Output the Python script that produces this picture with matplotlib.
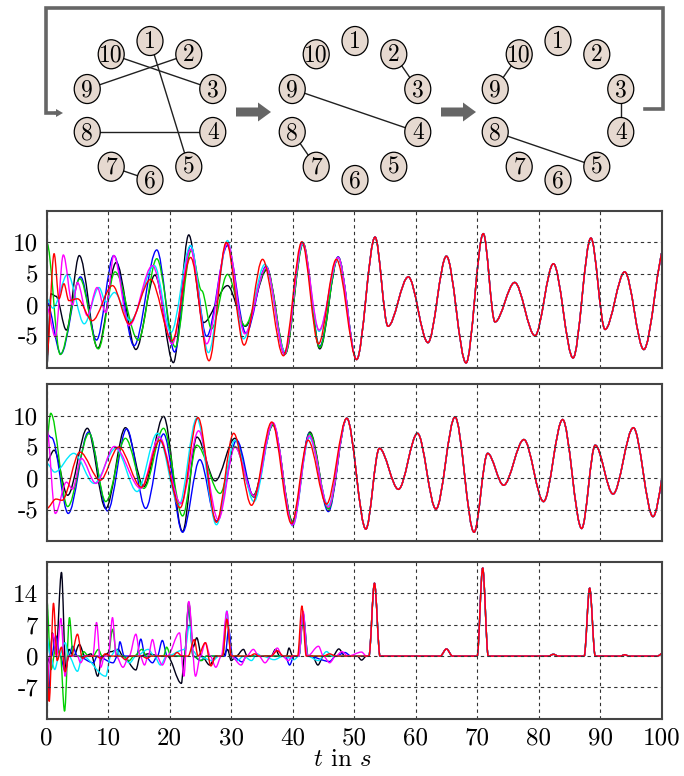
import matplotlib
matplotlib.use("Agg")
import matplotlib.pyplot as plt
from matplotlib.path import Path
from matplotlib.patches import PathPatch, Ellipse, FancyArrow
import numpy as np

plt.rcParams["font.family"] = "serif"
plt.rcParams["font.serif"] = ["cmr10"]
plt.rcParams["mathtext.fontset"] = "cm"
plt.rcParams["axes.unicode_minus"] = False

# ---- coupling graphs (edges between node numbers) ----
nodes = list(range(1, 11))
edges_a = [(10, 3), (9, 2), (1, 5), (8, 4), (7, 6)]
edges_b = [(2, 3), (9, 4), (8, 7)]
edges_c = [(10, 9), (3, 4), (8, 5)]

# ---- panel 1: extrema (t, value) ----
p1_black = [(0, -9.9), (0.7, 1.8), (1.5, 1.4), (3.2, -4.0), (5.3, 7.9), (8.3, -6.9), (11.3, 6.8),
            (14.5, -7.1), (17.6, 4.8), (20.6, -9.2), (23.1, 11.2), (25.5, -2.8), (29.4, 3.1),
            (32.3, -3.4), (35.8, 5.6), (38.8, -7.7), (41.7, 9.8), (44.4, -7.0), (47.4, 7.6)]
p1_blue = [(0, 0.5), (2.3, -7.8), (5.5, 4.5), (8.1, -5.6), (10.9, 7.9), (14.2, -6.5), (17.9, 8.8),
           (20.8, -7.5), (23.4, 9.5), (26.0, -5.0), (29.4, 9.5), (32.4, -4.5), (35.7, 6.2),
           (38.7, -7.9), (41.6, 9.9), (44.4, -6.6), (47.4, 7.7)]
p1_green = [(0, 10.0), (2.2, -7.9), (5.4, 4.2), (8.4, -7.0), (11.1, 5.3), (14.9, -5.6), (17.9, 7.4),
            (20.9, -6.7), (23.5, 8.7), (25.2, 2.3), (26.8, -3.8), (29.4, 4.9), (32.2, -3.3),
            (35.8, 5.8), (38.8, -7.8), (41.7, 9.9), (44.4, -6.8), (47.4, 7.6)]
p1_cyan = [(0, 1.0), (1.0, -0.5), (3.4, 4.9), (6.1, -3.0), (8.5, 2.8), (9.6, 0.5), (11.0, 2.0),
           (13.6, -2.5), (17.5, 6.3), (20.2, -4.4), (23.4, 9.5), (26.3, -7.6), (29.4, 10.3),
           (32.0, -5.4), (35.5, 6.5), (38.7, -7.4), (41.6, 9.7), (44.3, -4.2), (47.4, 7.5)]
p1_magenta = [(0, -0.3), (1.4, -5.1), (2.7, 8.0), (4.2, 0.0), (5.0, 3.6), (6.6, -1.7), (8.2, 2.8),
              (9.6, -1.2), (10.9, 7.9), (13.4, -3.3), (17.2, 6.3), (20.4, -6.2), (23.4, 8.9),
              (26.0, -6.2), (29.4, 9.9), (32.2, -4.6), (35.7, 6.0), (38.7, -7.8), (41.6, 10.0),
              (44.3, -4.0), (47.4, 7.6)]
p1_red = [(0, -8.3), (1.2, 8.2), (2.0, 1.0), (2.8, 3.4), (3.6, 0.7), (5.0, 1.0), (7.4, -2.5),
          (10.7, 3.1), (13.4, -3.0), (16.9, 4.1), (20.4, -5.7), (23.4, 7.6), (26.4, -8.9),
          (29.2, 10.0), (32.1, -6.4), (35.1, 7.3), (38.5, -8.1), (41.5, 10.1), (44.2, -6.2), (47.1, 7.3)]
p1_sync = [(50.4, -8.7), (53.4, 10.85), (55.5, -3.4), (58.8, 4.5), (62.0, -6.0), (65.0, 7.8),
           (68.2, -9.25), (71.0, 11.4), (72.9, -2.7), (76.1, 3.6), (79.4, -4.9), (82.4, 6.6),
           (85.6, -8.45), (88.5, 10.7), (90.8, -3.9), (94.0, 5.3), (97.1, -7.1), (100.6, 9.6)]

# ---- panel 2 ----
p2_black = [(0, 2.7), (1.2, 4.5), (3.4, -2.7), (6.6, 8.0), (9.6, -4.8), (12.8, 8.1), (15.8, -1.3),
            (19.0, 9.9), (22.1, -8.5), (24.4, 6.6), (27.4, -0.4), (30.6, 6.4), (33.6, -2.7),
            (36.8, 8.5), (40.0, -6.9), (42.8, 7.4), (45.8, -4.8)]
p2_blue = [(0, 7.1), (0.8, 6.5), (3.5, -5.6), (6.8, 7.4), (9.9, -5.2), (13.0, 7.9), (16.1, -4.8),
           (19.0, 7.1), (22.1, -8.6), (24.9, 3.0), (27.6, -6.8), (30.9, 6.1), (33.7, -3.0),
           (36.8, 8.7), (40.0, -7.3), (42.7, 7.2), (45.8, -5.3)]
p2_green = [(0, 6.1), (0.65, 10.4), (3.4, -4.5), (6.9, 7.2), (9.6, -3.7), (12.8, 6.4), (15.8, -1.6),
            (19.0, 8.0), (22.1, -6.0), (24.4, 5.3), (28.2, -2.4), (30.6, 5.1), (33.6, -2.9),
            (36.8, 8.6), (40.0, -7.0), (42.8, 7.2), (45.8, -4.9)]
p2_cyan = [(0, 2.4), (1.3, 1.0), (4.4, 4.0), (7.7, -0.8), (11.2, 4.8), (14.7, -2.1), (18.0, 7.2),
           (21.5, -4.3), (24.4, 9.6), (27.6, -7.4), (30.6, 6.1), (33.7, -3.7), (36.8, 8.8),
           (40.0, -7.6), (42.7, 6.5), (45.8, -4.3)]
p2_magenta = [(0, 8.0), (1.4, -5.6), (3.2, -0.6), (4.2, -1.7), (5.6, 3.2), (8.0, -0.8), (11.0, 5.1),
              (15.3, -1.6), (18.3, 6.6), (21.8, -4.0), (24.7, 7.6), (27.9, -6.6), (30.6, 5.0),
              (33.7, -2.8), (36.8, 8.9), (40.0, -7.5), (42.7, 6.8), (45.8, -4.6)]
p2_red = [(0, -4.8), (1.5, -3.3), (2.5, -3.5), (5.4, 4.2), (8.7, -0.3), (11.7, 5.0), (15.4, -1.4),
          (18.4, 6.1), (21.7, -4.7), (24.6, 9.7), (27.6, -7.0), (30.4, 7.2), (33.3, -4.3),
          (36.6, 9.0), (39.8, -7.2), (42.5, 6.1), (45.5, -4.1)]
p2_sync = [(48.8, 9.6), (51.9, -8.1), (54.1, 4.8), (57.2, -1.75), (60.3, 7.2), (63.3, -4.9),
           (66.4, 9.8), (69.5, -8.6), (71.7, 4.0), (74.3, -1.1), (77.6, 6.2), (80.8, -3.7),
           (83.9, 9.4), (87.0, -8.0), (89.2, 5.3), (92.1, -2.5), (95.4, 8.1), (98.6, -6.1), (101.6, 7.0)]

# ---- panel 3 ----
p3_black = [(0, 0), (0.5, -1.5), (0.9, 5.2), (1.5, 0.5), (2.4, 18.7), (3.1, -3.0), (3.6, 1.5),
            (4.4, 0), (5.3, 2.6), (6.2, 0), (7.2, 0.5), (8.3, -4.5), (9.0, 0), (10.5, 1.0),
            (11.6, 1.5), (12.4, 0), (14.5, -3.1), (15.2, 0), (16.5, 0.5), (18.5, 0), (19.6, 0),
            (21.9, -6.1), (22.4, 0), (23.1, 12.0), (23.8, 2.0), (24.4, 4.1), (25.2, 0), (26.5, -2.0),
            (27.5, 0), (28.7, 0), (29.4, 1.5), (30.0, -1.0), (30.8, 0), (32.0, 1.5), (32.6, 0),
            (36.5, 0), (37.2, 1.5), (37.9, 0), (39.0, 0), (39.4, 1.8), (40.0, 0), (41.0, 0),
            (41.7, 8.4), (42.4, 0), (43.2, 0), (44.1, -2.0), (45.0, 0), (46.5, 0), (47.5, 1.6),
            (48.5, 0), (50.5, 0), (51.2, -0.9), (52.0, 0)]
p3_blue = [(0, 0), (0.3, -8.6), (0.8, 0), (1.5, 4.5), (2.2, 0), (3.0, -3.5), (3.6, 0), (4.2, 2.2),
           (5.0, 0), (7.6, -1.5), (8.2, 0), (10.8, -1.5), (11.5, 0), (11.9, 3.2), (12.6, 0),
           (14.6, 0), (15.3, 3.8), (16.0, 0), (17.2, -1.5), (18.0, 0), (18.8, 3.5), (19.6, 0),
           (22.4, 0), (23.1, 10.5), (23.8, 0), (25.0, -1.0), (26.0, 0), (29.0, 0), (29.6, 6.0),
           (30.2, 0), (31.8, -1.3), (32.5, 0), (38.8, 0), (39.5, -2.0), (40.2, 0), (41.0, 0),
           (41.7, 9.5), (42.5, 0), (46.0, -1.2), (47.0, 0), (48.5, 0.8), (49.5, 0)]
p3_green = [(0, 12.7), (0.7, -3.0), (1.5, 2.0), (2.2, 0.5), (2.9, -12.3), (3.7, 8.6), (4.3, 0),
            (5.6, 0), (6.0, 1.0), (6.8, 0), (7.5, 0), (8.4, 1.5), (9.0, 0), (10.0, 0), (10.7, 6.0),
            (11.4, 0), (12.4, 0), (13.4, -1.0), (14.2, 0), (15.5, 1.5), (16.2, 0), (19.0, 0),
            (19.5, 2.0), (20.2, 0), (22.4, 0), (23.1, 11.5), (23.8, 0), (25.2, -1.0), (26.0, 0),
            (28.6, 0), (29.3, 8.5), (30.0, 0), (41.0, 0), (41.7, 9.0), (42.5, 0), (45.0, 0)]
p3_cyan = [(0, 4.5), (0.6, 0), (1.3, -3.0), (2.0, 0), (3.0, 3.0), (3.6, 0), (5.0, -3.4), (5.8, 0),
           (9.6, -4.5), (10.4, 0), (11.3, 1.5), (12.0, 0), (13.5, -1.5), (14.5, 0), (16.5, 1.5),
           (17.5, 0), (18.5, -2.0), (19.5, 0), (22.5, 1.5), (23.2, 7.0), (23.9, 1.0), (24.5, 0),
           (27.0, -1.0), (28.0, 0), (28.6, 0), (29.3, 10.1), (30.0, 0), (31.0, -1.0), (32.0, 0),
           (33.3, -1.0), (34.2, 0.5), (35.0, 0), (37.0, -0.8), (38.5, 0), (40.2, -0.8), (41.0, 0),
           (41.7, 9.5), (42.4, 0), (44.2, -1.0), (45.5, 1.0), (46.5, 0)]
p3_magenta = [(0, -8.2), (0.5, 0), (1.0, 5.0), (1.6, 0), (2.3, 8.4), (3.0, -4.5), (3.5, 0), (5.0, 0),
              (5.5, -1.5), (6.2, 0), (7.5, 0), (8.1, 7.5), (8.8, -2.5), (9.4, 0), (10.0, 0),
              (10.7, 8.6), (11.3, 0), (12.4, -2.5), (13.4, 0), (14.5, 4.9), (15.2, 0),
              (15.9, -2.0), (16.5, 0), (17.2, 3.7), (17.9, 0), (18.8, -2.0), (19.6, 0), (21.6, 5.2),
              (22.3, -4.5), (23.1, 12.2), (24.2, -4.5), (25.0, 0), (25.8, 3.0), (26.6, 0),
              (27.5, -2.5), (28.4, 0), (29.3, 10.0), (30.0, 0), (31.6, -2.0), (32.5, 0), (33.6, 1.5),
              (34.5, 0), (35.5, -1.5), (36.5, 0), (37.5, 1.8), (38.3, 0), (39.3, -1.0), (40.0, 0),
              (41.0, 0), (41.7, 10.0), (42.4, 0), (44.2, 2.2), (45.0, 0), (46.0, -1.5), (47.0, 0),
              (48.0, 1.0), (49.0, 0), (51.2, 0.9), (52.0, 0)]
p3_red = [(0, 0), (0.4, -10.1), (1.1, 11.8), (1.7, -1.0), (2.4, 2.0), (3.0, -3.5), (3.6, 0), (4.0, 0),
          (5.0, 4.9), (5.8, -0.5), (6.5, 0), (8.0, 0), (8.8, -0.5), (9.5, 0.5), (10.5, 0), (12.0, 0),
          (12.8, -0.8), (13.5, 0), (15.5, 0), (16.3, -0.5), (17.0, 0), (20.5, 0), (21.2, 0.8),
          (22.0, 0), (23.0, 0), (24.0, 3.7), (24.6, 0), (25.8, 3.0), (26.7, -2.2), (27.5, 0),
          (28.6, 0), (29.3, 8.2), (30.0, 0), (33.0, 0), (33.8, 0.5), (34.5, 0), (36.5, 0),
          (37.5, 1.2), (38.5, 0), (40.8, 0), (41.5, 11.2), (42.2, 0), (45.0, 0), (46.0, 0.5), (47.0, 0)]
p3_sync = [(52.4, 0), (53.3, 16.3), (54.2, 0), (64.0, 0), (65.0, 1.6), (66.0, 0), (70.0, 0),
           (70.9, 19.7), (71.8, 0), (81.6, 0), (82.4, 0.4), (83.2, 0), (87.4, 0), (88.3, 15.2),
           (89.2, 0), (93.3, 0), (94.0, 0.3), (94.7, 0), (99.3, 0), (100.5, 1.0)]

x_ticks = list(range(0, 101, 10))
p1_yticks = [-5, 0, 5, 10]
p3_yticks = [-7, 0, 7, 14]

colors = ["#000018", "#0000ff", "#00d000", "#00e8ff", "#ff00ff", "#ff0000"]


def smooth(points):
    # cubic bezier through the extrema, flat tangent at each one
    verts = [points[0]]
    codes = [Path.MOVETO]
    for (t0, v0), (t1, v1) in zip(points[:-1], points[1:]):
        d = (t1 - t0) / 3.0
        verts += [(t0 + d, v0), (t1 - d, v1), (t1, v1)]
        codes += [Path.CURVE4] * 3
    return Path(verts, codes)


fig = plt.figure(figsize=(6.84, 7.76), dpi=100)

# ---- top: three coupling graphs ----
ax0 = fig.add_axes([0, 576 / 776, 1, 200 / 776])
ax0.set_xlim(0, 684)
ax0.set_ylim(200, 0)
ax0.axis("off")

graph_cx = [150, 355, 558]
cy, rx, ry = 110.5, 66, 69.5


def node_xy(cx, k):
    ang = np.deg2rad(90 - 36 * (k - 1))
    return cx + rx * np.cos(ang), cy - ry * np.sin(ang)


for cx, edges in zip(graph_cx, [edges_a, edges_b, edges_c]):
    for a, b in edges:
        xa, ya = node_xy(cx, a)
        xb, yb = node_xy(cx, b)
        ax0.plot([xa, xb], [ya, yb], color="#202020", lw=1.0, zorder=1)
    for k in nodes:
        x, y = node_xy(cx, k)
        ax0.add_patch(Ellipse((x, y), 26, 29, facecolor="#e6d9d0", edgecolor="black", lw=0.9, zorder=3))
        ax0.text(x, y + 1, str(k), ha="center", va="center", fontsize=17, zorder=4)

arrow_gray = "#666666"
for x0 in [236, 441]:
    ax0.add_patch(FancyArrow(x0, 112, 22, 0, width=9, head_width=19, head_length=13,
                             length_includes_head=False, color=arrow_gray, lw=0))
ax0.plot([645, 663, 663, 46, 46, 56], [109, 109, 8, 8, 113, 113], color=arrow_gray, lw=2.6,
         solid_joinstyle="miter")
ax0.add_patch(FancyArrow(54, 113, 2, 0, width=2.6, head_width=8, head_length=7,
                         color=arrow_gray, lw=0))

# ---- time series panels ----
panels = [
    ([p1_black, p1_blue, p1_green, p1_cyan, p1_magenta, p1_red], p1_sync, (-10, 15), p1_yticks),
    ([p2_black, p2_blue, p2_green, p2_cyan, p2_magenta, p2_red], p2_sync, (-10, 15), p1_yticks),
    ([p3_black, p3_blue, p3_green, p3_cyan, p3_magenta, p3_red], p3_sync, (-14, 21), p3_yticks),
]
bottoms = [0.5262, 0.3028, 0.0738]

for i, (series, sync, ylim, yt) in enumerate(panels):
    ax = fig.add_axes([0.0683, bottoms[i], 0.899, 0.2018])
    for c, pts in zip(colors, series):
        ax.add_patch(PathPatch(smooth(pts + sync), fill=False, edgecolor=c, lw=1.0,
                               joinstyle="round", capstyle="round"))
    ax.set_xlim(0, 100)
    ax.set_ylim(*ylim)
    ax.set_xticks(x_ticks)
    ax.set_yticks(yt)
    ax.set_yticklabels([str(v) for v in yt], fontsize=18)
    if i == 2:
        ax.set_xticklabels([str(v) for v in x_ticks], fontsize=18)
    else:
        ax.set_xticklabels([])
    ax.tick_params(length=0, pad=6)
    ax.grid(True, color="#333333", lw=0.8, linestyle=(0, (3, 3)))
    for s in ax.spines.values():
        s.set_color("#444444")
        s.set_linewidth(1.5)

fig.text(0.5, 1 - 760 / 776, r"$t$ in $s$", ha="center", va="center", fontsize=18)

fig.savefig("out.png", dpi=100)
